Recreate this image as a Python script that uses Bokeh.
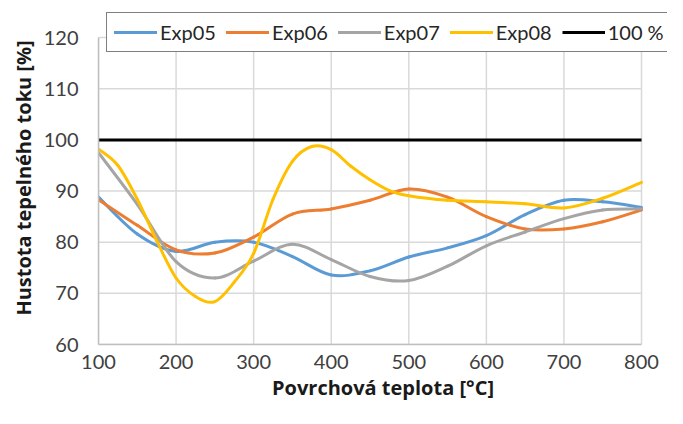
import numpy as np
from bokeh.plotting import figure
from bokeh.models import Legend, LegendItem, Range1d, FixedTicker, ColumnDataSource
from bokeh.embed import file_html
from bokeh.resources import INLINE

# ---- data ----
temps = [100, 150, 200, 250, 300, 350, 400, 450, 500, 550, 600, 650, 700, 750, 800]
exp05 = [88.8, 81.6, 78.2, 80.0, 80.0, 77.2, 73.6, 74.4, 77.1, 78.9, 81.3, 85.4, 88.2, 87.9, 86.8]
exp06 = [88.3, 83.3, 78.5, 77.9, 81.0, 85.5, 86.5, 88.2, 90.4, 88.8, 85.0, 82.6, 82.6, 84.0, 86.3]
exp07 = [97.5, 87.4, 76.2, 73.0, 76.3, 79.6, 76.6, 73.3, 72.5, 75.3, 79.3, 82.0, 84.6, 86.3, 86.5]
# Exp08 bends sharply, so it is read at a finer temperature step
temps08 = [100, 125, 150, 175, 200, 225, 250, 275, 300, 325, 350, 375, 400, 425, 450, 475,
           500, 550, 600, 650, 700, 750, 800]
exp08 = [98.2, 95.0, 88.4, 80.3, 73.0, 69.4, 68.4, 72.2, 77.8, 88.4, 95.8, 98.7, 98.1, 94.9, 92.2, 90.1,
         89.1, 88.2, 87.9, 87.5, 86.7, 88.6, 91.7]
ref_x = [100, 800]
ref_y = [100, 100]

series_names = ["Exp05", "Exp06", "Exp07", "Exp08"]
series_x = [temps, temps, temps, temps08]
series_values = [exp05, exp06, exp07, exp08]
series_colors = ["#5B9BD5", "#ED7D31", "#A5A5A5", "#FFC000"]
ref_name = "100 %"

x_ticks = [100, 200, 300, 400, 500, 600, 700, 800]
y_ticks = [60, 70, 80, 90, 100, 110, 120]
x_title = "Povrchová teplota [°C]"
y_title = "Hustota tepelného toku [%]"

FONT = "Lato"
TITLE_FONT = "Open Sans"

x_min, x_max = x_ticks[0], x_ticks[-1]
y_min, y_max = y_ticks[0], y_ticks[-1]


def smooth_segments(xs, ys):
    """Cubic Bezier control points (Excel-like smoothed line) through the data points."""
    x = np.asarray(xs, float)
    y = np.asarray(ys, float)
    n = len(x)
    xp = np.concatenate([[x[0]], x, [x[-1]]])
    yp = np.concatenate([[y[0]], y, [y[-1]]])
    return ColumnDataSource(dict(
        x0=x[:-1], y0=y[:-1], x1=x[1:], y1=y[1:],
        cx0=x[:-1] + (xp[2:n + 1] - xp[0:n - 1]) / 6.0,
        cy0=y[:-1] + (yp[2:n + 1] - yp[0:n - 1]) / 6.0,
        cx1=x[1:] - (xp[3:n + 2] - xp[1:n]) / 6.0,
        cy1=y[1:] - (yp[3:n + 2] - yp[1:n]) / 6.0,
    ))


# The frame extends a little above 120 and right of 800 so that the legend,
# which overlaps the top edge of the plot area as in the reference, is not clipped.
p = figure(width=667, height=408, output_backend="svg", toolbar_location=None,
           x_range=Range1d(x_min, 833.5), y_range=Range1d(y_min, 125.1),
           min_border_left=98, min_border_right=0, min_border_top=11, min_border_bottom=64)
p.outline_line_color = None
p.background_fill_color = "white"
p.border_fill_color = "white"
p.xgrid.visible = False
p.ygrid.visible = False

# grid lines limited to the data area (100..800, 60..120)
p.segment(x0=x_ticks, y0=[y_min] * len(x_ticks), x1=x_ticks, y1=[y_max] * len(x_ticks),
          line_color="#D9D9D9", line_width=1.5)
p.segment(x0=[x_min] * len(y_ticks), y0=y_ticks, x1=[x_max] * len(y_ticks), y1=y_ticks,
          line_color="#D9D9D9", line_width=1.5)

p.xaxis.ticker = FixedTicker(ticks=x_ticks)
p.yaxis.ticker = FixedTicker(ticks=y_ticks)
p.xaxis.bounds = (x_min, x_max)
p.yaxis.bounds = (y_min, y_max)

for ax in (p.xaxis, p.yaxis):
    ax.axis_line_color = "#BFBFBF"
    ax.axis_line_width = 1.5
    ax.major_tick_line_color = None
    ax.minor_tick_line_color = None
    ax.major_tick_out = 0
    ax.major_tick_in = 0
    ax.minor_tick_out = 0
    ax.minor_tick_in = 0
    ax.major_label_text_font = FONT
    ax.major_label_text_font_size = "20px"
    ax.major_label_text_color = "#404040"
    ax.axis_label_text_font = TITLE_FONT
    ax.axis_label_text_font_size = "20px"
    ax.axis_label_text_font_style = "bold"
    ax.axis_label_text_color = "#1a1a1a"

p.xaxis.axis_label = x_title
p.yaxis.axis_label = y_title
p.xaxis.major_label_standoff = 10
p.xaxis.axis_label_standoff = 2
p.yaxis.major_label_standoff = 20
p.yaxis.axis_label_standoff = 4

items = []
for name, xs, vals, col in zip(series_names, series_x, series_values, series_colors):
    r = p.bezier(x0="x0", y0="y0", x1="x1", y1="y1", cx0="cx0", cy0="cy0", cx1="cx1", cy1="cy1",
                 source=smooth_segments(xs, vals), line_color=col, line_width=3,
                 line_cap="round", line_join="round")
    items.append(LegendItem(label=name, renderers=[r]))

r_ref = p.line(ref_x, ref_y, line_color="black", line_width=3)
items.append(LegendItem(label=ref_name, renderers=[r_ref]))

legend = Legend(items=items, orientation="horizontal", location=(8, 292))
legend.border_line_color = "black"
legend.border_line_width = 1.5
legend.background_fill_color = "white"
legend.background_fill_alpha = 1.0
legend.label_text_font = FONT
legend.label_text_font_size = "20px"
legend.label_text_color = "#262626"
legend.glyph_width = 43
legend.glyph_height = 20
legend.label_height = 20
legend.label_standoff = 3
legend.spacing = 10
legend.padding = 7
legend.margin = 0
p.add_layout(legend, "center")

open("out.html", "w").write(file_html(p, INLINE))
